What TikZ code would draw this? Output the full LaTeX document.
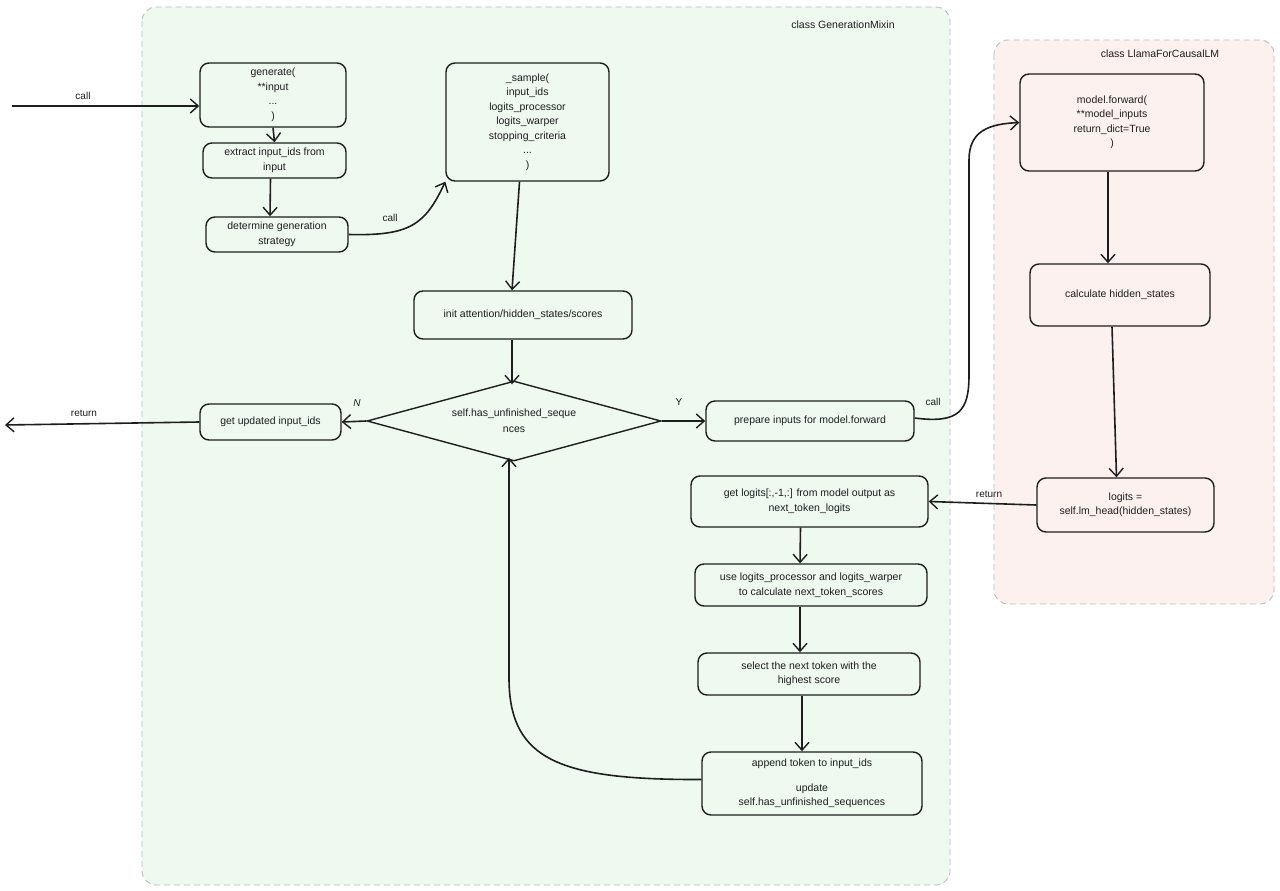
\documentclass[tikz,border=0pt]{standalone}
\usepackage{fontspec}
\setmainfont{Liberation Sans}
\usetikzlibrary{arrows.meta,shapes.geometric}
\definecolor{ink}{HTML}{1E1E1E}
\definecolor{greenbg}{HTML}{EEF9F0}
\definecolor{pinkbg}{HTML}{FDF1F0}
\definecolor{frame}{HTML}{BDBDBD}
\tikzset{
  container/.style={draw=frame, dashed, dash pattern=on 6pt off 4pt, line width=0.9pt, rounded corners=14pt},
  box/.style={draw=ink, line width=1.4pt, rounded corners=9pt, align=center, text=ink, font=\fontsize{10.5}{14.5}\selectfont, inner sep=2pt},
  dia/.style={draw=ink, line width=1.4pt, diamond, align=center, text=ink, font=\fontsize{10.5}{16}\selectfont, inner sep=0pt},
  arr/.style={draw=ink, line width=1.6pt, -{Straight Barb[length=8pt,width=14pt,line width=1.4pt]}},
  lbl/.style={text=ink, font=\fontsize{10}{12}\selectfont, inner sep=1pt},
  ttl/.style={text=ink, font=\fontsize{10.5}{12}\selectfont, inner sep=1pt}
}
\begin{document}
\begin{tikzpicture}[x=1pt,y=-1pt]
\useasboundingbox[fill=white] (0,0) rectangle (1280,891);
% containers
\draw[container, fill=greenbg] (142,7) rectangle (950,885);
\draw[container, fill=pinkbg] (994,40) rectangle (1274,604);
\node[ttl] (t1) at (843,25) {class GenerationMixin};
\node[ttl] (t2) at (1160,54) {class LlamaForCausalLM};

% nodes GenerationMixin
\node[box, minimum width=146pt, minimum height=64pt] (gen) at (273,95) {generate(\\**input\\...\\)};
\node[box, minimum width=143pt, minimum height=35pt] (ext) at (274.5,160.5) {extract input\_ids from\\input};
\node[box, minimum width=142pt, minimum height=35pt] (det) at (277,234.5) {determine generation\\strategy};
\node[box, minimum width=163pt, minimum height=118pt] (smp) at (527.5,122) {\_sample(\\input\_ids\\logits\_processor\\logits\_warper\\stopping\_criteria\\...\\)};
\node[box, minimum width=218pt, minimum height=48pt] (ini) at (523,315) {init attention/hidden\_states/scores};
\node[dia, minimum width=294pt, minimum height=80pt, aspect=3.675] (dec) at (514,421) {self.has\_unfinished\_seque\\nces};
\node[box, minimum width=141pt, minimum height=36pt] (upd) at (270.5,422) {get updated input\_ids};
\node[box, minimum width=208pt, minimum height=40pt] (prp) at (810,421) {prepare inputs for model.forward};
\node[box, minimum width=237pt, minimum height=51pt] (gl) at (809.5,501.5) {get logits[:,-1,:] from model output as\\next\_token\_logits};
\node[box, minimum width=232pt, minimum height=42pt] (use) at (811,585) {use logits\_processor and logits\_warper\\to calculate next\_token\_scores};
\node[box, minimum width=222pt, minimum height=42pt] (sel) at (809,674) {select the next token with the\\highest score};
\node[box, minimum width=220pt, minimum height=63pt] (app) at (812,783.5) {append token to input\_ids\\[10pt]update\\self.has\_unfinished\_sequences};

% nodes Llama
\node[box, minimum width=184pt, minimum height=97pt] (mf) at (1112,122.5) {model.forward(\\**model\_inputs\\return\_dict=True\\)};
\node[box, minimum width=180pt, minimum height=62pt] (hs) at (1120,295) {calculate hidden\_states};
\node[box, minimum width=177pt, minimum height=54pt] (lg) at (1125.5,505) {logits =\\self.lm\_head(hidden\_states)};

% free ends
\coordinate (callsrc) at (12,106);
\coordinate (retdst) at (5,425);

% connectors
\draw[arr] (callsrc) -- (gen.west |- callsrc);
\node[lbl] (lcall1) at (83,96) {call};
\draw[arr] (gen.south) -- (ext.north);
\draw[arr] ([xshift=-4pt]ext.south) -- ([xshift=-7pt]det.north);
\draw[arr] (det.east) .. controls (410,236) and (425,225) .. (smp.south west);
\node[lbl] (lcall2) at (390,218) {call};
\draw[arr] ([xshift=-8pt]smp.south) -- ([xshift=-11pt]ini.north);
\draw[arr] ([xshift=-11pt]ini.south) -- ([xshift=-2pt,yshift=-4pt]dec.north);
\draw[arr] (dec.west) -- (upd.east);
\node[lbl] (lN) at (357,403) {\itshape N};
\draw[arr] (upd.west) -- (retdst);
\node[lbl] (lret1) at (84,413) {return};
\draw[arr] (dec.east) -- (prp.west);
\node[lbl] (lY) at (679,402) {Y};
\draw[arr] ([yshift=3pt]prp.east) .. controls (960,424) and (969,410) .. (969,375) -- (969,160) .. controls (969,130) and (990,124) .. (mf.west);
\node[lbl] (lcall3) at (933,402) {call};
\draw[arr] ([xshift=-4pt]mf.south) -- ([xshift=-12pt]hs.north);
\draw[arr] ([xshift=-8pt]hs.south) -- ([xshift=-9pt]lg.north);
\draw[arr] (lg.west) -- (gl.east);
\node[lbl] (lret2) at (989,494) {return};
\draw[arr] ([xshift=-9pt]gl.south) -- ([xshift=-11pt]use.north);
\draw[arr] ([xshift=-11pt]use.south) -- ([xshift=-9pt]sel.north);
\draw[arr] ([xshift=-7pt]sel.south) -- ([xshift=-10pt]app.north);
\draw[arr] ([yshift=4pt]app.west) .. controls (560,780) and (510,760) .. (509,680) -- ([xshift=-5pt,yshift=4pt]dec.south);
\end{tikzpicture}
\end{document}
